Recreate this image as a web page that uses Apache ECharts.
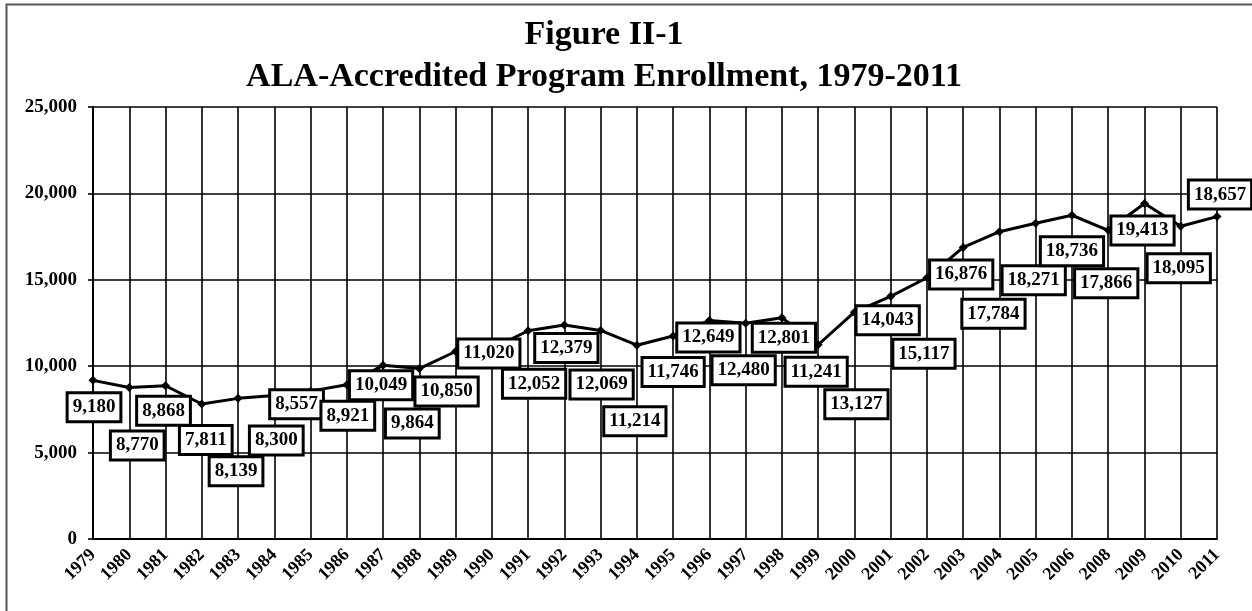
<!DOCTYPE html>
<html>
<head>
<meta charset="utf-8">
<script src="https://cdn.jsdelivr.net/npm/echarts@6/dist/echarts.min.js"></script>
<style>
  html, body { margin: 0; padding: 0; background: #fff; }
  #chart { width: 1252px; height: 611px; }
</style>
</head>
<body>
<div id="chart"></div>
<script>
// years on the x axis (2007 is not in the source)
const years = ['1979', '1980', '1981', '1982', '1983', '1984', '1985', '1986', '1987', '1988',
    '1989', '1990', '1991', '1992', '1993', '1994', '1995', '1996', '1997', '1998', '1999',
    '2000', '2001', '2002', '2003', '2004', '2005', '2006', '2008', '2009', '2010', '2011'];

// enrollment per year
const enrollment = [9180, 8770, 8868, 7811, 8139, 8300, 8557, 8921, 10049, 9864,
    10850, 11020, 12052, 12379, 12069, 11214, 11746, 12649, 12480, 12801, 11241,
    13127, 14043, 15117, 16876, 17784, 18271, 18736, 17866, 19413, 18095, 18657];

// where each value box sits relative to its point, in px
const labelOffsets = [
    [1, 27], [8, 58], [-2, 25], [4, 36], [-2, 73], [2, 45], [-14, 13], [1, 31], [-2, 20], [-7, 55],
    [-9, 40], [-3, 5], [6, 53], [2, 23], [1, 54], [-2, 76], [0, 36], [-1, 17], [-2, 47], [2, 20], [-2, 27],
    [2, 92], [-3, 24], [-3, 76], [-2, 27], [-6, 82], [-2, 57], [0, 36], [-2, 53], [-2, 27], [-2, 42], [3, -22]
];

const serif = '"Liberation Serif", "Times New Roman", serif';

const chart = echarts.init(document.getElementById('chart'));

chart.setOption({
    animation: false,
    backgroundColor: '#fff',
    title: {
        text: 'Figure II-1\nALA-Accredited Program Enrollment, 1979-2011',
        left: 604,
        top: 14,
        textAlign: 'center',
        padding: 0,
        textStyle: {
            fontFamily: serif,
            fontWeight: 'bold',
            fontSize: 34,
            lineHeight: 42,
            color: '#000'
        }
    },
    graphic: [{
        type: 'polyline',
        shape: { points: [[6.5, 700], [6.5, 4.5], [1300, 4.5]] },
        style: { stroke: '#555', lineWidth: 2, fill: null }
    }],
    grid: { left: 93, right: 35, top: 107, bottom: 72 },
    xAxis: {
        type: 'category',
        data: years,
        boundaryGap: false,
        axisLine: { lineStyle: { color: '#000', width: 2 } },
        axisTick: { show: false },
        axisLabel: {
            rotate: 45,
            margin: 13,
            interval: 0,
            fontFamily: serif,
            fontWeight: 'bold',
            fontSize: 18,
            color: '#000'
        },
        splitLine: { show: true, interval: 0, lineStyle: { color: '#000', width: 1.6 } }
    },
    yAxis: {
        type: 'value',
        min: 0,
        max: 25000,
        interval: 5000,
        axisLine: { show: true, lineStyle: { color: '#000', width: 2 } },
        axisTick: { show: true, length: 5, lineStyle: { color: '#000', width: 1.6 } },
        axisLabel: {
            margin: 16,
            fontFamily: serif,
            fontWeight: 'bold',
            fontSize: 19,
            color: '#000',
            formatter: v => v.toLocaleString('en-US')
        },
        splitLine: { show: true, lineStyle: { color: '#000', width: 1.6 } }
    },
    series: [{
        type: 'line',
        data: enrollment.map((v, i) => ({
            value: v,
            label: { offset: labelOffsets[i] }
        })),
        symbol: 'diamond',
        symbolSize: 9,
        lineStyle: { color: '#000', width: 3 },
        itemStyle: { color: '#000' },
        z: 3,
        label: {
            show: true,
            position: 'inside',
            fontFamily: serif,
            fontWeight: 'bold',
            fontSize: 19,
            lineHeight: 20,
            color: '#000',
            backgroundColor: '#fff',
            borderColor: '#000',
            borderWidth: 3,
            padding: [3, 4],
            formatter: p => p.value.toLocaleString('en-US')
        }
    }]
});
</script>
</body>
</html>
